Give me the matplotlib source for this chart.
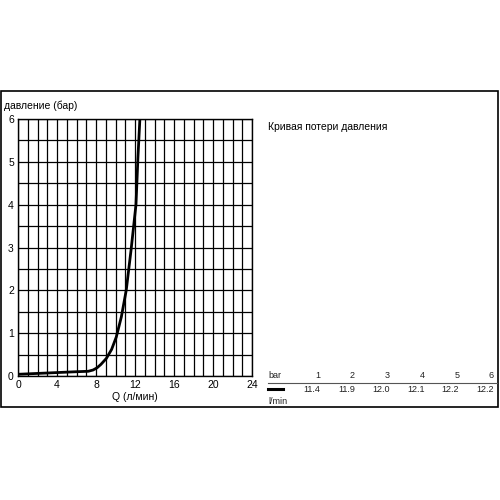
import matplotlib
matplotlib.use('Agg')
import matplotlib.pyplot as plt
from matplotlib.lines import Line2D
from matplotlib.patches import Rectangle

plt.rcParams['font.family'] = ['Liberation Sans', 'DejaVu Sans']

# curve
flow = [0, 2, 4, 6, 7.2, 7.7, 8.1, 8.5, 9.06, 9.6, 10.08, 10.6, 11.1, 11.6, 12.1, 12.3, 12.5]
pressure = [0.04, 0.06, 0.08, 0.1, 0.11, 0.14, 0.19, 0.27, 0.41, 0.62, 0.91, 1.38, 2.0, 2.95, 4.0, 5.1, 6.0]

# table on the right
table_bar = [1, 2, 3, 4, 5, 6]
table_lmin = ['11.4', '11.9', '12.0', '12.1', '12.2', '12.2']

fig = plt.figure(figsize=(5, 5), dpi=100)
ax = fig.add_axes([0.036, 0.248, 0.468, 0.514])

ax.plot(flow, pressure, color='black', linewidth=2, solid_capstyle='butt')
ax.set_xlim(0, 24)
ax.set_ylim(0, 6)
ax.set_xticks(range(0, 25, 4))
ax.set_xticks(range(0, 25, 1), minor=True)
ax.set_yticks(range(0, 7))
ax.set_yticks([v / 2 for v in range(0, 13)], minor=True)
ax.grid(True, which='both', color='black', linewidth=0.9)
ax.tick_params(which='both', length=0, labelsize=7.5, pad=3)
for s in ax.spines.values():
    s.set_linewidth(1)
ax.set_xlabel('Q (л/мин)', fontsize=7.5, labelpad=1)

fig.text(0.008, 0.788, 'давление (бар)', fontsize=7.5, va='center')
fig.text(0.536, 0.746, 'Кривая потери давления', fontsize=7.5, va='center')

# outer frame
fig.patches.append(Rectangle((0.002, 0.186), 0.994, 0.632, transform=fig.transFigure,
                             fill=False, edgecolor='black', linewidth=1.2))

# pressure table
fs = 6.5
fig.text(0.536, 0.248, 'bar', fontsize=fs, va='center', color='#222222')
for i, b in enumerate(table_bar):
    xr = (320 + i * 34.8) / 500
    fig.text(xr, 0.248, str(b), fontsize=fs, ha='right', va='center', color='#222222')
    fig.text(xr, 0.222, table_lmin[i], fontsize=fs, ha='right', va='center', color='#222222')
fig.lines.append(Line2D([0.536, 0.994], [0.235, 0.235], transform=fig.transFigure,
                        color='#555555', linewidth=0.8))
fig.lines.append(Line2D([0.536, 0.566], [0.222, 0.222], transform=fig.transFigure,
                        color='black', linewidth=2.2))
fig.text(0.536, 0.196, 'l/min', fontsize=fs, va='center', color='#222222')

fig.savefig('out.png', dpi=100, facecolor='white')
